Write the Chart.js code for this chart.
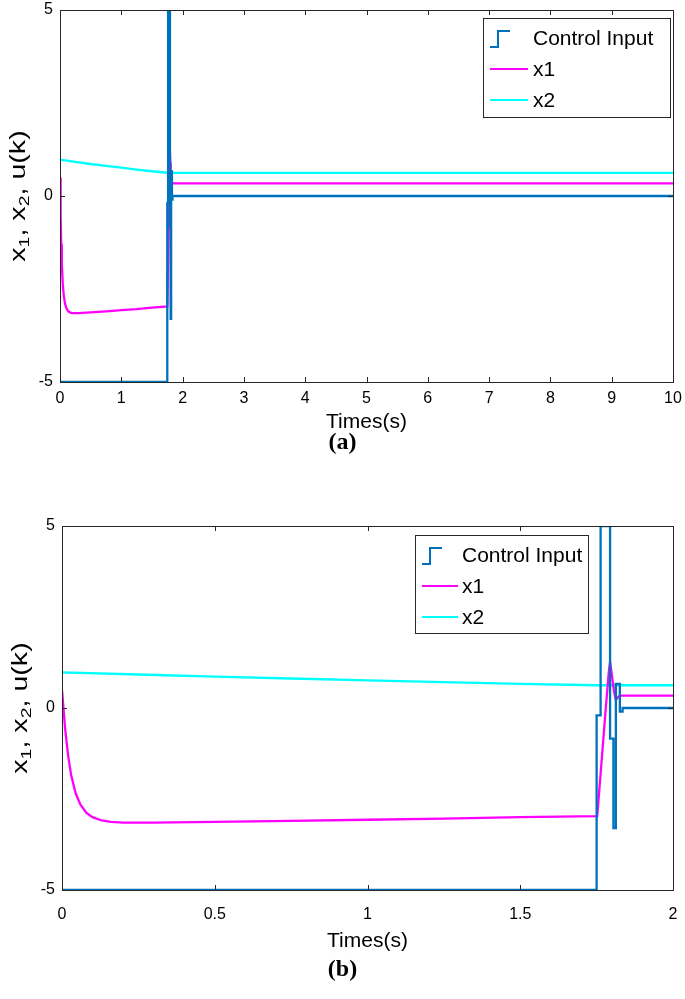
<!DOCTYPE html>
<html>
<head>
<meta charset="utf-8">
<script src="https://cdn.jsdelivr.net/npm/chart.js@4.4.0/dist/chart.umd.min.js"></script>
<style>
  body { margin: 0; background: #fff; width: 685px; height: 999px; position: relative; overflow: hidden; }
  canvas { position: absolute; left: 0; }
  #chartA { top: 0; }
  #chartB { top: 480px; }
  .caption { position: absolute; left: 0; width: 685px; text-align: center;
             font: bold 24px "Liberation Serif", "Times New Roman", serif; color: #000; }
  .ylab { position: absolute; width: 200px; height: 26px; line-height: 26px; text-align: center;
          font: 22px "Liberation Sans", Arial, sans-serif; color: #000; white-space: nowrap;
          transform: rotate(-90deg) scale(1.3, 1); }
  .ylab sub { font-size: 15px; vertical-align: -4px; line-height: 0; }
</style>
</head>
<body>
<canvas id="chartA" width="685" height="480"></canvas>
<div class="ylab" style="left:-82px;top:183px">x<sub>1</sub>, x<sub>2</sub>, u(k)</div>
<div class="caption" style="top:428px">(a)</div>
<canvas id="chartB" width="685" height="519"></canvas>
<div class="ylab" style="left:-80px;top:695px">x<sub>1</sub>, x<sub>2</sub>, u(k)</div>
<div class="caption" style="top:955px">(b)</div>
<script>
// control input u(k), held constant until the next time stamp
const uTime = [0, 1.75, 1.763, 1.794, 1.805, 1.813, 1.826, 1.835, 10];
const uValue = [-5, -0.2, 5, -0.84, -3.3, 0.66, -0.1, 0, 0];

const x1Time = [0, 0.01, 0.02, 0.03, 0.045, 0.06, 0.08, 0.1, 0.13, 0.16, 0.2, 0.3, 0.5, 0.75, 1.0, 1.25, 1.5,
  1.752, 1.765, 1.78, 1.79, 1.794, 1.8, 1.807, 1.813, 1.82, 1.826, 10];
const x1Value = [0.5, -0.55, -1.3, -1.85, -2.35, -2.65, -2.88, -3.0, -3.09, -3.13, -3.15, -3.15, -3.13, -3.1, -3.07, -3.04, -3.0,
  -2.97, -1.6, 0.0, 1.0, 1.27, 0.9, 0.45, 0.22, 0.3, 0.34, 0.34];

const x2Time = [0, 0.25, 0.5, 0.75, 1.0, 1.25, 1.5, 1.75, 10];
const x2Value = [0.98, 0.92, 0.86, 0.81, 0.76, 0.71, 0.665, 0.625, 0.62];

const seriesLabels = ["Control Input", "x1", "x2"];
const yTicks = [-5, 0, 5];
const xTicksA = [0, 1, 2, 3, 4, 5, 6, 7, 8, 9, 10];
const xTicksB = [0, 0.5, 1, 1.5, 2];
const xTitle = "Times(s)";

const FONT = "'Liberation Sans', Arial, sans-serif";
Chart.defaults.font.family = FONT;
Chart.defaults.color = "#000";

const toPoints = (t, v) => t.map((x, i) => ({ x: x, y: v[i] }));

// box around the plot and inward tick marks on all four sides
const framePlugin = {
  id: "frame",
  afterDatasetsDraw(chart) {
    const { ctx, chartArea: a, scales } = chart;
    ctx.save();
    ctx.strokeStyle = "#262626";
    ctx.lineWidth = 1;
    ctx.beginPath();
    scales.x.ticks.forEach((t) => {
      const px = Math.round(scales.x.getPixelForValue(t.value)) + 0.5;
      ctx.moveTo(px, a.bottom); ctx.lineTo(px, a.bottom - 5);
      ctx.moveTo(px, a.top); ctx.lineTo(px, a.top + 5);
    });
    scales.y.ticks.forEach((t) => {
      const py = Math.round(scales.y.getPixelForValue(t.value)) + 0.5;
      ctx.moveTo(a.left, py); ctx.lineTo(a.left + 5, py);
      ctx.moveTo(a.right, py); ctx.lineTo(a.right - 5, py);
    });
    ctx.stroke();
    ctx.strokeRect(Math.round(a.left) + 0.5, Math.round(a.top) + 0.5,
      Math.round(a.right - a.left), Math.round(a.bottom - a.top));
    ctx.restore();
  },
};

// matlab style legend box
const legendPlugin = {
  id: "boxLegend",
  afterDraw(chart, args, opts) {
    const { ctx } = chart;
    const [l, t, r, b] = opts.box;
    ctx.save();
    ctx.fillStyle = "#fff";
    ctx.fillRect(l, t, r - l, b - t);
    ctx.strokeStyle = "#262626";
    ctx.lineWidth = 1;
    ctx.strokeRect(l + 0.5, t + 0.5, r - l, b - t);
    ctx.font = "21px " + FONT;
    ctx.textBaseline = "middle";
    chart.data.datasets.forEach((ds, i) => {
      const y = t + 20 + i * 31;
      ctx.strokeStyle = ds.borderColor;
      ctx.lineWidth = 2;
      ctx.beginPath();
      if (ds.stepped) {
        ctx.moveTo(l + 7, y + 9); ctx.lineTo(l + 15, y + 9);
        ctx.lineTo(l + 15, y - 7); ctx.lineTo(l + 27, y - 7);
      } else {
        ctx.moveTo(l + 7, y); ctx.lineTo(l + opts.lineEnd, y);
      }
      ctx.stroke();
      ctx.fillStyle = "#000";
      ctx.fillText(ds.label, l + opts.textX, y + 1);
    });
    ctx.restore();
  },
};

function makeChart(id, cfg) {
  const datasets = [
    { label: seriesLabels[0], data: toPoints(uTime, uValue), borderColor: "#0072BD", stepped: true },
    { label: seriesLabels[1], data: toPoints(x1Time, x1Value), borderColor: "#FF00FF" },
    { label: seriesLabels[2], data: toPoints(x2Time, x2Value), borderColor: "#00FFFF" },
  ].map((d) => Object.assign(d, { borderWidth: 2.3, pointRadius: 0, tension: 0, fill: false }));

  return new Chart(document.getElementById(id), {
    type: "line",
    data: { datasets: datasets },
    plugins: [framePlugin, legendPlugin],
    options: {
      responsive: false,
      animation: false,
      layout: { padding: cfg.padding },
      plugins: {
        legend: { display: false },
        tooltip: { enabled: false },
        boxLegend: cfg.legend,
      },
      scales: {
        x: {
          type: "linear",
          min: 0,
          max: cfg.xTicks[cfg.xTicks.length - 1],
          grid: { display: false, drawTicks: false },
          border: { display: false },
          afterBuildTicks: (s) => { s.ticks = cfg.xTicks.map((v) => ({ value: v })); },
          afterFit: (s) => { s.height = cfg.xAxisHeight; s.paddingLeft = 0; s.paddingRight = 0; },
          ticks: { font: { size: 16 }, padding: cfg.xTickPad, maxRotation: 0, autoSkip: false,
                   callback: (v) => String(v) },
          title: { display: true, text: xTitle, font: { size: 21 }, padding: { top: 0, bottom: cfg.xTitlePad } },
        },
        y: {
          min: -5,
          max: 5,
          grid: { display: false, drawTicks: false },
          border: { display: false },
          afterBuildTicks: (s) => { s.ticks = yTicks.map((v) => ({ value: v })); },
          afterFit: (s) => { s.width = cfg.yAxisWidth; s.paddingTop = 0; s.paddingBottom = 0; },
          ticks: { font: { size: 16 }, padding: 7, callback: (v) => String(v) },
        },
      },
    },
  });
}

makeChart("chartA", {
  xTicks: xTicksA,
  padding: { top: 10, right: 12, bottom: 42, left: 0 },
  xAxisHeight: 56,
  yAxisWidth: 60,
  xTickPad: 7,
  xTitlePad: 3,
  legend: { box: [483, 18, 670, 117], textX: 50, lineEnd: 45 },
});

makeChart("chartB", {
  xTicks: xTicksB,
  padding: { top: 46, right: 12, bottom: 39, left: 0 },
  xAxisHeight: 70,
  yAxisWidth: 62,
  xTickPad: 15,
  xTitlePad: 6,
  legend: { box: [415, 55, 588, 153], textX: 47, lineEnd: 43 },
});
</script>
</body>
</html>
